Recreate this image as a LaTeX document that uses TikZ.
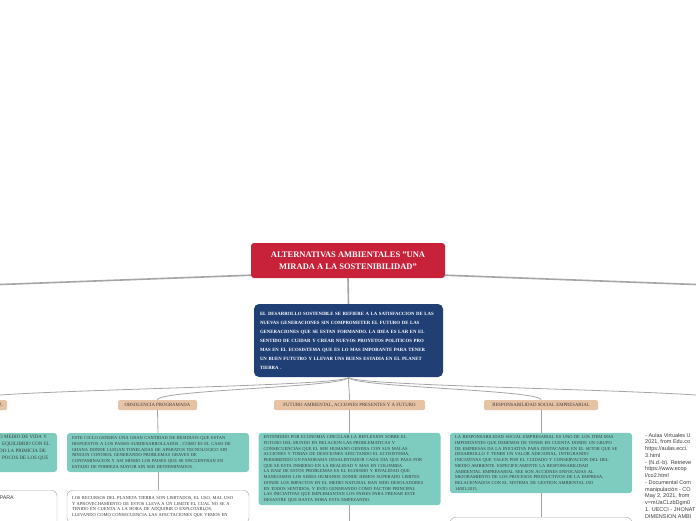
\documentclass[tikz,border=0pt]{standalone}
\usepackage{fontspec}
\setmainfont{Liberation Serif}
\newfontfamily\refsfont{Liberation Sans}
\usetikzlibrary{positioning}

\definecolor{rootred}{HTML}{C8213A}
\definecolor{ideablue}{HTML}{1F3F75}
\definecolor{topictan}{HTML}{E6C3A5}
\definecolor{leafteal}{HTML}{7ECCC0}
\definecolor{linegray}{HTML}{A5A5A5}
\definecolor{txtgray}{HTML}{3A3A3A}

\newcommand{\dq}{\symbol{34}}

\tikzset{
  rootbox/.style={fill=rootred, rounded corners=3pt, text=white, align=center,
    font=\bfseries\fontsize{8.5}{12}\selectfont, minimum width=194pt, minimum height=35pt, inner sep=0pt},
  ideabox/.style={fill=ideablue, rounded corners=5pt, text=white, align=left,
    font=\bfseries\fontsize{4.8}{9}\selectfont, text width=177pt, inner xsep=6pt, minimum height=73pt},
  topicbox/.style={fill=topictan, rounded corners=1.5pt, text=txtgray, align=center,
    font=\fontsize{4.8}{6}\selectfont, minimum height=10pt, inner xsep=4pt, inner ysep=0pt},
  leafbox/.style={fill=leafteal, rounded corners=3pt, text=txtgray, align=left,
    font=\fontsize{4.5}{5.7}\selectfont, text width=172pt, inner xsep=5pt, inner ysep=3pt},
  notebox/.style={draw=linegray, fill=white, rounded corners=6pt, text=txtgray, align=left,
    font=\fontsize{4.5}{5.9}\selectfont, minimum width=182pt, text width=172pt, inner xsep=5pt, inner ysep=6pt},
  cuttext/.style={text=txtgray, align=left, inner sep=0pt},
  refstext/.style={text=txtgray, align=left, inner sep=0pt, font=\refsfont\fontsize{5.5}{6.75}\selectfont},
  trunk/.style={draw=linegray, line width=1.6pt},
  twig/.style={draw=linegray, line width=0.8pt}
}

\begin{document}
\begin{tikzpicture}[x=1pt, y=-1pt]
  \useasboundingbox (0,0) rectangle (696,520);
  \clip (0,0) rectangle (696,520);

  % Central topic
  \node[rootbox] (root) at (348,260.5) {ALTERNATIVAS AMBIENTALES \dq UNA\\MIRADA A LA SOSTENIBILIDAD\dq};

  % Main idea
  \node[ideabox] (idea) at (348.5,340.5) {EL DESARROLLO SOSTENIBLE SE REFIERE A LA SATISFACCION DE LAS\\
    NUEVAS GENERACIONES SIN COMPROMETER EL FUTURO DE LAS\\
    GENERACIONES QUE SE ESTAN FORMANDO. LA IDEA ES LAR EN EL\\
    SENTIDO DE CUIDAR Y CREAR NUEVOS PROYETOS POLITICOS PRO\\
    MAS EN EL ECOSISTEMA QUE ES LO MAS IMPORANTE PARA TENER\\
    UN BUEN FUTUTRO Y LLEVAR UNS BUENS ESTADIA EN EL PLANET\\
    TIERRA .};

  % Branches running off the page
  \coordinate (farL) at (-40,286);
  \coordinate (farR) at (736,286);
  \coordinate (farTopic) at (732,400);

  % Topics
  \node[topicbox, text width=72pt, align=right] (peace) at (-33,405) {AZ.};
  \node[topicbox, minimum width=79pt] (obsol) at (157.5,405) {OBSOLENCIA PROGRAMADA};
  \node[topicbox, minimum width=151pt] (future) at (349.5,405) {FUTURO AMBIENTAL, ACCIONES PRESENTES Y A FUTURO};
  \node[topicbox, minimum width=114pt] (csr) at (541,405) {RESPONSABILIDAD SOCIAL EMPRESARIAL};

  % Leaves
  \node[leafbox, minimum height=39pt] (peaceLeaf) at (-34,452.5) {};
  \node[cuttext, anchor=west, font=\fontsize{5}{7}\selectfont] (peaceLeafText) at (-1,447.5)
    {O MEDIO DE VIDA Y\\\hspace{3pt}EQUILIBRIO CON EL\\DO LA PRIMICIA DE\\\hspace{3pt}POCOS DE LOS QUE};

  \node[leafbox, minimum height=39pt] (obsolLeaf) at (158,452.5) {ESTE CICLO GENERA UNA GRAN CANTIDAD DE RESIDUOS QUE ESTAN\\
    DISPUESTOS A LOS PAISES SUBDESARROLLADOS , COMO ES EL CASO DE\\
    GHANA DONDE LLEGAN TONELADAS DE APARATOS TECNOLOGICO SIN\\
    NINGUN CONTROL GENERANDO PROBLEMAS GRAVES DE\\
    CONTAMINACION Y ASI MISMO LOS PAISES QUE SE ENCUENTRAN EN\\
    ESTADO DE POBREZA MAYOR SIN SER DETERMINADOS .};

  \node[leafbox, minimum height=72pt] (futureLeaf) at (349.5,469) {ENTENDIDO POR ECONOMIA CIRCULAR LA REFLEXION SOBRE EL\\
    FUTURO DEL MUNDO EN RELACION LAS PROBLEMATICAS Y\\
    CONSECUENCIAS QUE EL SER HUMANO GENERA CON SUS MALAS\\
    ACCIONES Y TOMAS DE DESICIONES AFECTANDO EL ECOSISTEMA,\\
    PERSIBIENDO UN PANORAMA DESALENTADOR CADA DIA QUE PASA POR\\
    QUE SE ESTA INMERSO EN LA REALIDAD Y MAS EN COLOMBIA.\\
    LA RAIZ DE ESTOS PROBLEMAS ES EL EGOISMO Y RIVALIDAD QUE\\
    MANEJAMOS LOS SERES HUMANOS DONDE HEMOS SUPERADO LIMITES\\
    DONDE LOS IMPACTOS EN EL MEDIO NATURAL HAN SIDO DESOLADORES\\
    EN TODOS SENTIDOS, Y ESTO GENERANDO COMO FACTOR PRINCIPAL\\
    LAS INICIATIVAS QUE IMPLEMANTAN LOS PAISES PARA FRENAR ESTE\\
    DESASTRE QUE HASTA HORA ESTA EMPEZANDO.};

  \node[leafbox, minimum height=60pt] (csrLeaf) at (541,463) {LA RESPONSABILIDAD SOCIAL EMPRESARIAL ES UNO DE LOS ITEM MAS\\
    IMPORTANTES QUE DEBEMOS DE TENER EN CUENTA DONDE UN GRUPO\\
    DE EMPRESAS DA LA INICIATIVA PARA DESTACARSE EN EL SETOR QUE SE\\
    DESARROLLO Y TENER UN VALOR ADICIONAL, INTEGRANDO\\
    INICIATIVAS QUE VALEN POR EL CUIDADO Y CONSERVACION DEL DEL\\
    MEDIO AMBIENTE. ESPECIFICAMENTE LA RESPONSABILIDAD\\
    AMBIENTAL EMPRESARIAL SEE SON ACCIONES ENFOCADAS AL\\
    MEJORAMIENTO DE LOS PROCESOS PRODUCTIVOS DE LA EMPRESA,\\
    RELACIONADOS CON EL SISTEMA DE GESTION AMBIENTAL ISO\\
    14001:2015.};

  % Notes
  \node[notebox, anchor=north, minimum height=40pt] (peaceNote) at (-34,490) {};
  \node[cuttext, anchor=west, font=\refsfont\fontsize{5.3}{6}\selectfont] (peaceNoteText) at (-0.5,497.5) {PARA};
  \node[notebox, anchor=north] (obsolNote) at (158,490) {LOS RECURSOS DEL PLANETA TIERRA SON LIMITADOS, EL USO, MAL USO\\
    Y APROVECHAMIENTO DE ESTOS LLEVA A UN LIMITE EL CUAL NO SE A\\
    TENIDO EN CUENTA A LA HORA DE ADQUIRIR O EXPLOTARLOS,\\
    LLEVANDO COMO CONSECUENCIA LAS AFECTACIONES QUE VEMOS EN};
  \coordinate (futureNote) at (349.5,530);
  \node[notebox, anchor=north, minimum height=30pt] (csrNote) at (541,517) {};

  % References
  \node[refstext, anchor=north west] (refs) at (645,433) {- Aulas Virtuales U\\
    2021, from Edu.co\\
    https://aulas.ecci.\\
    3.html\\
    - (N.d.-b). Retrieve\\
    https://www.ecop\\
    l/co2.html\\
    - Documental Com\\
    manipulación - CO\\
    May 2, 2021, from\\
    v=mUaCLzbDgm0\\
    1. UECCI - JHONAT\\
    DIMENSION AMBI};

  % Connectors
  \draw[trunk] ([yshift=3pt]root.south west) -- (farL);
  \draw[trunk] ([yshift=3pt]root.south east) -- (farR);
  \draw[trunk] (root.south) -- (idea.north);
  \foreach \t in {peace, obsol, future, csr}
    \draw[twig] (idea.south) .. controls +(0,10) and +(0,-10) .. (\t.north);
  \draw[twig] (idea.south) .. controls +(0,10) and +(0,-10) .. (farTopic);
  \foreach \t in {peace, obsol, future, csr} {
    \draw[twig] (\t.south) -- (\t Leaf.north);
  }
  \draw[twig] (peaceLeaf.south) -- (peaceNote.north);
  \draw[twig] (obsolLeaf.south) -- (obsolNote.north);
  \draw[twig] (futureLeaf.south) -- (futureNote);
  \draw[twig] (csrLeaf.south) -- (csrNote.north);

\end{tikzpicture}
\end{document}
